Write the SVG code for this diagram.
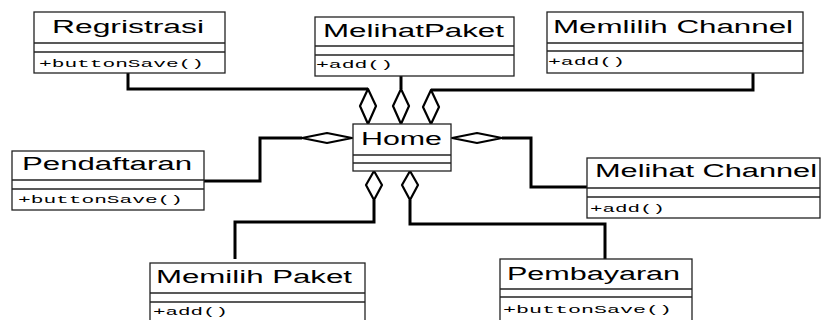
<svg xmlns="http://www.w3.org/2000/svg" width="822" height="320" viewBox="0 0 822 320">
<style>
.box{fill:#fff;stroke:#222;stroke-width:1.3}
.div{stroke:#222;stroke-width:1.3}
.t{font-family:"Liberation Sans",Arial,sans-serif;font-size:18px;fill:#000}
.m{font-family:"Liberation Mono","Courier New",monospace;font-size:11px;fill:#000}
.c{fill:none;stroke:#000;stroke-width:3}
.d{fill:#fff;stroke:#000;stroke-width:2.2;stroke-linejoin:round}
</style>
<rect width="822" height="320" fill="#fff"/>
<g id="connectors">
<polyline class="c" points="128,73 128,89 368,89"/>
<polyline class="c" points="401,76 401,89"/>
<polyline class="c" points="753,73 753,90 431,90"/>
<polyline class="c" points="204,181 260,181 260,138 302,138"/>
<polyline class="c" points="587,187 531,187 531,138 502,138"/>
<polyline class="c" points="235,259 235,222 374,222 374,200"/>
<polyline class="c" points="605,259 605,224 410,224 410,200"/>
<polygon class="d" points="368,89 376,106 368,124 360,106"/>
<polygon class="d" points="401,89 409,106 401,124 393,106"/>
<polygon class="d" points="431,90 439,107 431,124 423,107"/>
<polygon class="d" points="302,138 327,133 352,138 327,143"/>
<polygon class="d" points="452,138 477,133 502,138 477,143"/>
<polygon class="d" points="374,171 382,185 374,200 366,185"/>
<polygon class="d" points="410,171 418,185 410,200 402,185"/>
</g>
<g id="regristrasi">
<rect class="box" x="34" y="12" width="191" height="61"/>
<line class="div" x1="34" y1="43" x2="225" y2="43"/><line class="div" x1="34" y1="52" x2="225" y2="52"/>
<text class="t" x="52" y="33" textLength="152" lengthAdjust="spacingAndGlyphs">Regristrasi</text>
<text class="m" x="39" y="67" textLength="165" lengthAdjust="spacingAndGlyphs">+buttonSave()</text>
</g>
<g id="melihatpaket">
<rect class="box" x="315" y="17" width="199" height="59"/>
<line class="div" x1="315" y1="46" x2="514" y2="46"/><line class="div" x1="315" y1="55" x2="514" y2="55"/>
<text class="t" x="323" y="37" textLength="181" lengthAdjust="spacingAndGlyphs">MelihatPaket</text>
<text class="m" x="316" y="68" textLength="77" lengthAdjust="spacingAndGlyphs">+add()</text>
</g>
<g id="memlilihchannel">
<rect class="box" x="547" y="12" width="256" height="61"/>
<line class="div" x1="547" y1="43" x2="803" y2="43"/><line class="div" x1="547" y1="51" x2="803" y2="51"/>
<text class="t" x="553" y="33" textLength="240" lengthAdjust="spacingAndGlyphs">Memlilih Channel</text>
<text class="m" x="548" y="65" textLength="77" lengthAdjust="spacingAndGlyphs">+add()</text>
</g>
<g id="pendaftaran">
<rect class="box" x="12" y="151" width="192" height="59"/>
<line class="div" x1="12" y1="180" x2="204" y2="180"/><line class="div" x1="12" y1="189" x2="204" y2="189"/>
<text class="t" x="22" y="170" textLength="170" lengthAdjust="spacingAndGlyphs">Pendaftaran</text>
<text class="m" x="18" y="203" textLength="165" lengthAdjust="spacingAndGlyphs">+buttonSave()</text>
</g>
<g id="home">
<rect class="box" x="353" y="124" width="98" height="47"/>
<line class="div" x1="353" y1="155" x2="451" y2="155"/><line class="div" x1="353" y1="163" x2="451" y2="163"/>
<text class="t" x="361" y="145" textLength="81" lengthAdjust="spacingAndGlyphs">Home</text>
</g>
<g id="melihatchannel">
<rect class="box" x="587" y="158" width="233" height="60"/>
<line class="div" x1="587" y1="188" x2="820" y2="188"/><line class="div" x1="587" y1="197" x2="820" y2="197"/>
<text class="t" x="595" y="177" textLength="222" lengthAdjust="spacingAndGlyphs">Melihat Channel</text>
<text class="m" x="590" y="212" textLength="75" lengthAdjust="spacingAndGlyphs">+add()</text>
</g>
<g id="memilihpaket">
<rect class="box" x="150" y="263" width="215" height="62"/>
<line class="div" x1="150" y1="293" x2="365" y2="293"/><line class="div" x1="150" y1="302" x2="365" y2="302"/>
<text class="t" x="156" y="283" textLength="196" lengthAdjust="spacingAndGlyphs">Memilih Paket</text>
<text class="m" x="153" y="315" textLength="75" lengthAdjust="spacingAndGlyphs">+add()</text>
</g>
<g id="pembayaran">
<rect class="box" x="500" y="259" width="192" height="66"/>
<line class="div" x1="500" y1="289" x2="692" y2="289"/><line class="div" x1="500" y1="297" x2="692" y2="297"/>
<text class="t" x="507" y="280" textLength="173" lengthAdjust="spacingAndGlyphs">Pembayaran</text>
<text class="m" x="503" y="313" textLength="169" lengthAdjust="spacingAndGlyphs">+buttonSave()</text>
</g>
</svg>
